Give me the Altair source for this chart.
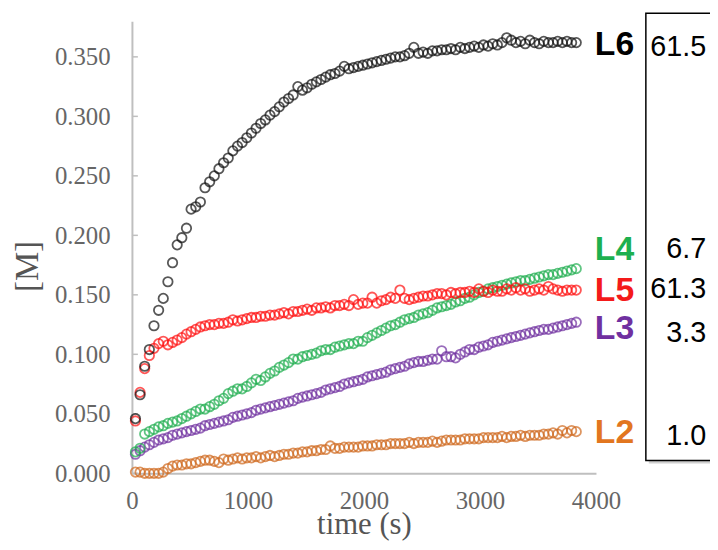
import altair as alt
import pandas as pd

# sampling times (s)
TIME = [30, 70, 110, 150, 190, 230, 270, 310, 350, 390, 430, 470, 510, 550, 590, 630,
        670, 710, 750, 790, 830, 870, 910, 950, 990, 1030, 1070, 1110, 1150, 1190, 1230, 1270,
        1310, 1350, 1390, 1430, 1470, 1510, 1550, 1590, 1630, 1670, 1710, 1750, 1790, 1830, 1870, 1910,
        1950, 1990, 2030, 2070, 2110, 2150, 2190, 2230, 2270, 2310, 2350, 2390, 2430, 2470, 2510, 2550,
        2590, 2630, 2670, 2710, 2750, 2790, 2830, 2870, 2910, 2950, 2990, 3030, 3070, 3110, 3150, 3190,
        3230, 3270, 3310, 3350, 3390, 3430, 3470, 3510, 3550, 3590, 3630, 3670, 3710, 3750, 3790, 3830]

L6 = [0.046, 0.066, 0.090, 0.104, 0.124, 0.137, 0.147, 0.161, 0.177, 0.192, 0.198, 0.206, 0.222, 0.224, 0.228, 0.240,
      0.245, 0.250, 0.256, 0.261, 0.265, 0.271, 0.275, 0.278, 0.282, 0.286, 0.290, 0.294, 0.297, 0.301, 0.304, 0.308,
      0.312, 0.315, 0.318, 0.325, 0.322, 0.324, 0.327, 0.329, 0.331, 0.333, 0.335, 0.336, 0.338, 0.342, 0.340, 0.341,
      0.342, 0.343, 0.344, 0.345, 0.346, 0.347, 0.348, 0.349, 0.350, 0.350, 0.351, 0.353, 0.358, 0.353, 0.354, 0.353,
      0.355, 0.355, 0.356, 0.356, 0.357, 0.356, 0.358, 0.357, 0.358, 0.359, 0.358, 0.360, 0.359, 0.361, 0.360, 0.362,
      0.366, 0.364, 0.362, 0.363, 0.361, 0.364, 0.362, 0.361, 0.363, 0.362, 0.362, 0.363, 0.362, 0.363, 0.362, 0.362]

L5 = [0.044, 0.068, 0.088, 0.099, 0.105, 0.109, 0.111, 0.108, 0.110, 0.112, 0.114, 0.117, 0.119, 0.121, 0.123, 0.124,
      0.125, 0.125, 0.126, 0.126, 0.127, 0.129, 0.128, 0.129, 0.130, 0.131, 0.131, 0.132, 0.132, 0.133, 0.133, 0.134,
      0.135, 0.134, 0.136, 0.136, 0.137, 0.138, 0.137, 0.139, 0.139, 0.140, 0.139, 0.141, 0.141, 0.142, 0.141, 0.146,
      0.142, 0.143, 0.143, 0.148, 0.143, 0.145, 0.146, 0.148, 0.147, 0.154, 0.147, 0.146, 0.147, 0.148, 0.149, 0.149,
      0.150, 0.151, 0.151, 0.150, 0.152, 0.151, 0.152, 0.152, 0.153, 0.152, 0.155, 0.153, 0.152, 0.154, 0.153, 0.153,
      0.155, 0.154, 0.156, 0.154, 0.155, 0.153, 0.154, 0.155, 0.154, 0.157, 0.155, 0.154, 0.153, 0.154, 0.154, 0.154]

L4 = [0.018, 0.021, 0.033, 0.035, 0.037, 0.039, 0.040, 0.042, 0.043, 0.044, 0.046, 0.048, 0.050, 0.052, 0.054, 0.054,
      0.056, 0.058, 0.061, 0.063, 0.067, 0.069, 0.071, 0.071, 0.073, 0.076, 0.079, 0.078, 0.081, 0.084, 0.086, 0.089,
      0.091, 0.093, 0.096, 0.096, 0.098, 0.099, 0.100, 0.101, 0.103, 0.104, 0.104, 0.106, 0.107, 0.108, 0.109, 0.109,
      0.111, 0.111, 0.114, 0.116, 0.118, 0.120, 0.122, 0.124, 0.125, 0.127, 0.129, 0.130, 0.131, 0.133, 0.134, 0.135,
      0.137, 0.139, 0.140, 0.141, 0.142, 0.144, 0.145, 0.147, 0.148, 0.150, 0.152, 0.153, 0.155, 0.156, 0.157, 0.158,
      0.159, 0.160, 0.161, 0.162, 0.162, 0.163, 0.164, 0.165, 0.166, 0.167, 0.167, 0.168, 0.169, 0.170, 0.171, 0.172]

L3 = [0.016, 0.019, 0.022, 0.024, 0.026, 0.028, 0.029, 0.030, 0.032, 0.033, 0.034, 0.035, 0.036, 0.037, 0.038, 0.040,
      0.041, 0.042, 0.043, 0.044, 0.045, 0.047, 0.048, 0.049, 0.050, 0.051, 0.053, 0.054, 0.055, 0.056, 0.057, 0.058,
      0.059, 0.060, 0.061, 0.063, 0.064, 0.065, 0.066, 0.067, 0.068, 0.070, 0.071, 0.072, 0.073, 0.075, 0.076, 0.077,
      0.078, 0.079, 0.081, 0.082, 0.083, 0.084, 0.085, 0.087, 0.088, 0.089, 0.090, 0.092, 0.093, 0.094, 0.094, 0.095,
      0.096, 0.096, 0.103, 0.098, 0.098, 0.097, 0.100, 0.102, 0.104, 0.104, 0.106, 0.107, 0.108, 0.110, 0.111, 0.112,
      0.113, 0.114, 0.115, 0.116, 0.117, 0.118, 0.119, 0.120, 0.121, 0.121, 0.122, 0.123, 0.124, 0.125, 0.126, 0.127]

L2 = [0.001, 0.001, 0.000, 0.000, 0.000, 0.000, 0.001, 0.004, 0.006, 0.007, 0.007, 0.008, 0.008, 0.009, 0.010, 0.011,
      0.011, 0.010, 0.009, 0.012, 0.011, 0.012, 0.013, 0.012, 0.013, 0.013, 0.014, 0.013, 0.014, 0.015, 0.014, 0.015,
      0.016, 0.016, 0.017, 0.017, 0.018, 0.018, 0.019, 0.019, 0.020, 0.020, 0.023, 0.021, 0.021, 0.022, 0.022, 0.022,
      0.022, 0.023, 0.023, 0.023, 0.024, 0.024, 0.024, 0.025, 0.025, 0.025, 0.025, 0.026, 0.025, 0.026, 0.026, 0.026,
      0.027, 0.026, 0.027, 0.028, 0.028, 0.028, 0.028, 0.029, 0.029, 0.029, 0.029, 0.030, 0.030, 0.030, 0.030, 0.031,
      0.030, 0.031, 0.031, 0.032, 0.031, 0.032, 0.032, 0.032, 0.033, 0.033, 0.034, 0.033, 0.036, 0.034, 0.036, 0.035]

SERIES = ["L6", "L4", "L3", "L2", "L5"]
MARKER_COLORS = ["#111111", "#1FAE4F", "#7030A0", "#D0691E", "#FF1010"]
LABEL_COLORS = ["#000000", "#1DB04F", "#7030A0", "#E2761F", "#F41A1A"]

# right-hand labels and box values
LABEL_Y = [0.360, 0.1875, 0.121, 0.034, 0.153]
BOX_TEXT = ["61.5", "6.7", "3.3", "1.0", "61.3"]
BOX_Y = [0.3585, 0.1885, 0.1175, 0.0315, 0.155]

Y_TICKS = [0.0, 0.05, 0.10, 0.15, 0.20, 0.25, 0.30, 0.35]
X_TICKS = [0, 1000, 2000, 3000, 4000]

values = {"L6": L6, "L5": L5, "L4": L4, "L3": L3, "L2": L2}
rows = []
for s in SERIES:
    for t, v in zip(TIME, values[s]):
        rows.append({"t": t, "v": v, "s": s})
df = pd.DataFrame(rows)

lab_df = pd.DataFrame({"s": SERIES, "y": LABEL_Y, "x": [3990] * 5,
                       "num": BOX_TEXT, "ny": BOX_Y, "nx": [4950] * 5})
tick_df = pd.DataFrame({"v": Y_TICKS})
box_df = pd.DataFrame({"x": [4430], "x2": [5300], "y": [0.3867], "y2": [0.0108]})
shadow_df = pd.DataFrame({"x": [4455], "x2": [5300], "y": [0.3842], "y2": [0.0083]})

xs = alt.Scale(domain=[0, 4000], nice=False, zero=False)
ys = alt.Scale(domain=[0, 0.38], nice=False, zero=False)
cs = alt.Scale(domain=SERIES, range=MARKER_COLORS)
ls = alt.Scale(domain=SERIES, range=LABEL_COLORS)

SERIF = "Liberation Serif"
SANS = "Liberation Sans"

points = alt.Chart(df).mark_point(shape="circle", filled=False, size=90, strokeWidth=1.8).encode(
    x=alt.X("t:Q", scale=xs, title="time (s)",
            axis=alt.Axis(values=X_TICKS, format="d", ticks=False, grid=False, labelFlush=False,
                          domainColor="#BFBFBF", domainWidth=2, labelFont=SERIF, labelFontSize=25,
                          labelColor="#666666", labelPadding=15, titleFont=SERIF, titleFontSize=31,
                          titleFontWeight="normal", titleColor="#555555", titleY=61,
                          titleBaseline="alphabetic")),
    y=alt.Y("v:Q", scale=ys, title="[M]",
            axis=alt.Axis(values=Y_TICKS, format=".3f", ticks=False, grid=False, labelFlush=False,
                          domainColor="#BFBFBF", domainWidth=2, labelFont=SERIF, labelFontSize=25,
                          labelColor="#666666", labelPadding=22, titleFont=SERIF, titleFontSize=33,
                          titleFontWeight="normal", titleColor="#555555", titleX=-95, titleY=247,
                          titleAngle=-90, titleBaseline="alphabetic", titleAlign="center")),
    color=alt.Color("s:N", scale=cs, legend=None),
    order=alt.Order("s:N"),
)

ticks = alt.Chart(tick_df).mark_rule(color="#BFBFBF", strokeWidth=1.5).encode(
    y=alt.Y("v:Q", scale=ys), x=alt.value(0), x2=alt.value(6))

shadow = alt.Chart(shadow_df).mark_rect(fill="#D0D0D0").encode(
    x=alt.X("x:Q", scale=xs), x2="x2:Q", y=alt.Y("y:Q", scale=ys), y2="y2:Q")
box = alt.Chart(box_df).mark_rect(fill="white", stroke="black", strokeWidth=1.5).encode(
    x=alt.X("x:Q", scale=xs), x2="x2:Q", y=alt.Y("y:Q", scale=ys), y2="y2:Q")

labels = alt.Chart(lab_df).mark_text(font=SANS, fontSize=34, fontWeight="bold", align="left",
                                     baseline="middle").encode(
    x=alt.X("x:Q", scale=xs), y=alt.Y("y:Q", scale=ys),
    text="s:N", color=alt.Color("s:N", scale=ls, legend=None))

nums = alt.Chart(lab_df).mark_text(font=SANS, fontSize=29, align="right", baseline="middle",
                                   color="black").encode(
    x=alt.X("nx:Q", scale=xs), y=alt.Y("ny:Q", scale=ys), text="num:N")

chart = alt.layer(shadow, box, ticks, points, labels, nums).resolve_scale(color="independent").properties(
    width=468, height=456,
    autosize=alt.AutoSizeParams(type="none"),
    padding={"left": 125, "top": 11, "right": 115, "bottom": 67},
).configure_view(stroke=None)

chart.save("out.html", embed_options={"renderer": "svg", "actions": False})
